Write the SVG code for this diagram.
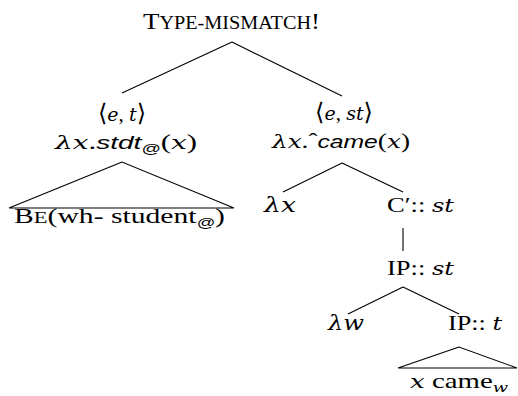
<svg xmlns="http://www.w3.org/2000/svg" width="518" height="396" viewBox="0 0 518 396">
<style>
text{font-family:"Liberation Serif","DejaVu Serif",serif;font-size:21px;fill:#000}
.i{font-family:"DejaVu Serif","Liberation Serif",serif;font-style:italic;font-size:19px}
.sf{font-family:"Liberation Sans","DejaVu Sans",sans-serif;font-style:italic;font-size:19px}
.sub{font-size:13px}
.sc{font-size:16px}
.br{font-size:24px}
.lam{font-size:21px}
.edge{stroke:#000;stroke-width:1.1;fill:none}
</style>
<g id="connectors">
<line class="edge" x1="232" y1="42" x2="122" y2="93"/>
<line class="edge" x1="232" y1="42" x2="342" y2="96"/>
<polygon class="edge" points="122,162 9,208 234,208"/>
<line class="edge" x1="342" y1="163" x2="283" y2="192"/>
<line class="edge" x1="342" y1="163" x2="403" y2="192"/>
<line class="edge" x1="403" y1="228" x2="403" y2="251"/>
<line class="edge" x1="403" y1="287" x2="348" y2="314"/>
<line class="edge" x1="403" y1="287" x2="459" y2="314"/>
<polygon class="edge" points="459,347 398,368 517,368"/>
</g>
<g id="root">
<text x="143" y="29" textLength="177" lengthAdjust="spacingAndGlyphs" style="font-size:24px">T<tspan style="font-size:18px">YPE-MISMATCH</tspan>!</text>
</g>
<g id="left">
<text x="122" y="121" text-anchor="middle"><tspan class="br">⟨</tspan><tspan class="i">e</tspan>, <tspan class="i">t</tspan><tspan class="br">⟩</tspan></text>
<text x="55" y="149" textLength="142" lengthAdjust="spacingAndGlyphs"><tspan class="i">λx</tspan>.<tspan class="sf">stdt</tspan><tspan class="sf sub" dy="4">@</tspan><tspan dy="-4">(</tspan><tspan class="i">x</tspan>)</text>
</g>
<g id="left-leaf">
<text x="14" y="223" textLength="211" lengthAdjust="spacingAndGlyphs">B<tspan class="sc">E</tspan>(wh- student<tspan class="sf sub" dy="4">@</tspan><tspan dy="-4">)</tspan></text>
</g>
<g id="right">
<text x="344" y="120" text-anchor="middle"><tspan class="br">⟨</tspan><tspan class="i">e</tspan>, <tspan class="i">st</tspan><tspan class="br">⟩</tspan></text>
<text x="272" y="148" textLength="138" lengthAdjust="spacingAndGlyphs"><tspan class="i">λx</tspan>.ˆ<tspan class="sf">came</tspan>(<tspan class="i">x</tspan>)</text>
</g>
<g id="lambda-x">
<text x="264" y="212" class="i lam" textLength="32" lengthAdjust="spacingAndGlyphs">λx</text>
</g>
<g id="cbar">
<text x="387" y="212" textLength="67" lengthAdjust="spacingAndGlyphs">C′:: <tspan class="i">st</tspan></text>
</g>
<g id="ip-st">
<text x="387" y="275" textLength="67" lengthAdjust="spacingAndGlyphs">IP:: <tspan class="i">st</tspan></text>
</g>
<g id="lambda-w">
<text x="328" y="330" class="i lam" textLength="36" lengthAdjust="spacingAndGlyphs">λw</text>
</g>
<g id="ip-t">
<text x="448" y="330" textLength="54" lengthAdjust="spacingAndGlyphs">IP:: <tspan class="i">t</tspan></text>
</g>
<g id="ip-t-leaf">
<text x="410" y="388" textLength="98" lengthAdjust="spacingAndGlyphs"><tspan class="i">x</tspan> came<tspan class="i sub" dy="4">w</tspan></text>
</g>
</svg>
